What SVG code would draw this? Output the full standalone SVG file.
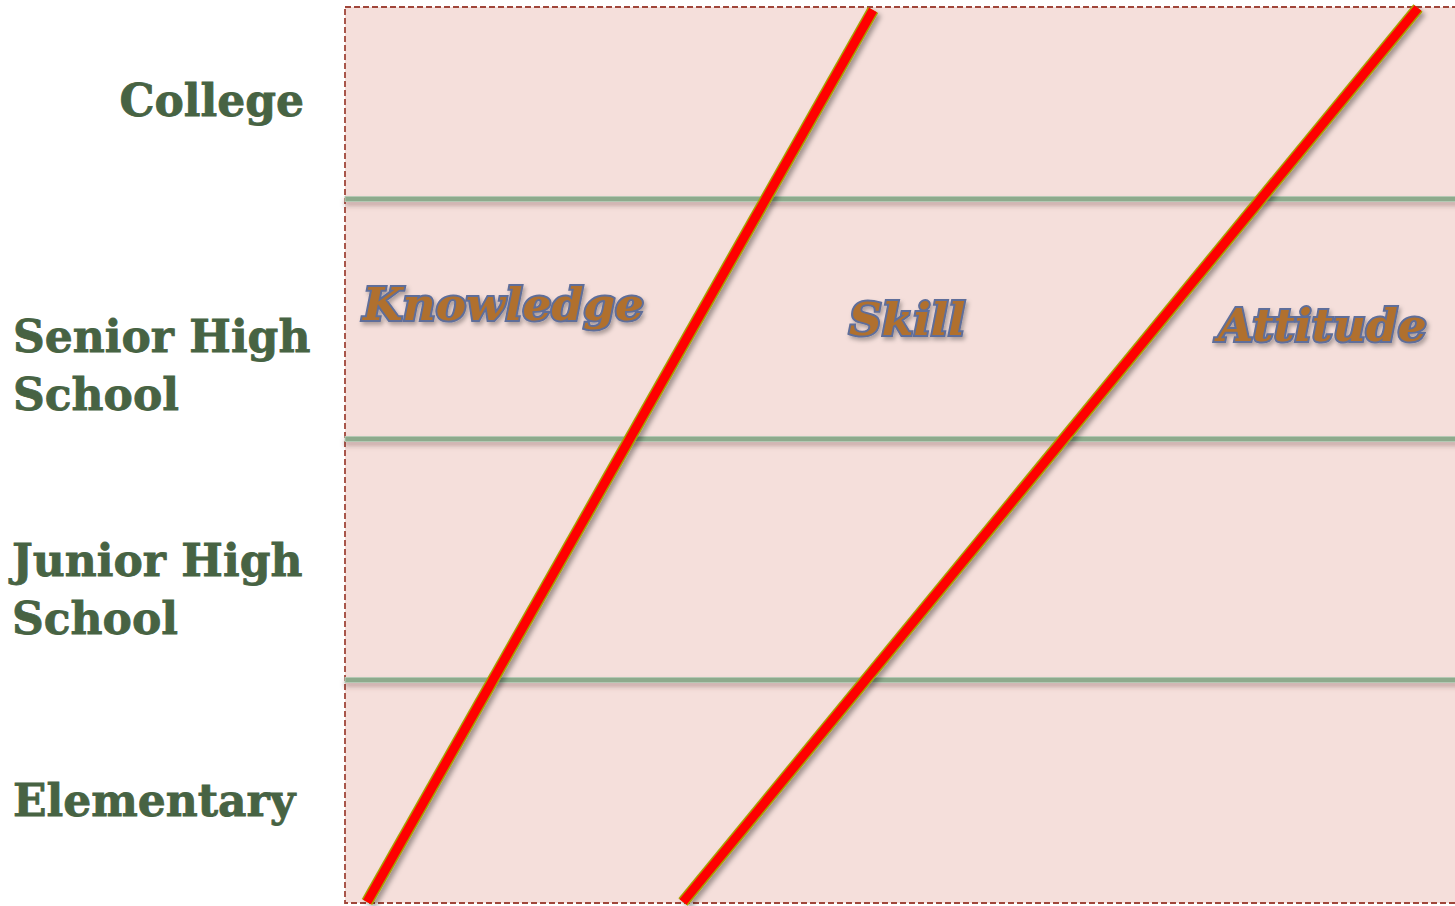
<svg xmlns="http://www.w3.org/2000/svg" width="1455" height="906" viewBox="0 0 1455 906">
<defs>
<filter id="sh" filterUnits="userSpaceOnUse" x="0" y="0" width="1455" height="906">
<feDropShadow dx="3" dy="3" stdDeviation="2.5" flood-color="#000" flood-opacity="0.35"/>
</filter>
<filter id="gsh" filterUnits="userSpaceOnUse" x="0" y="0" width="1455" height="906">
<feDropShadow dx="0" dy="4" stdDeviation="2.5" flood-color="#5a3030" flood-opacity="0.3"/>
</filter>
<filter id="tsh" x="-10%" y="-20%" width="130%" height="150%">
<feDropShadow dx="2" dy="3" stdDeviation="2" flood-color="#000" flood-opacity="0.3"/>
</filter>
</defs>
<style>
.lvl{font-family:"DejaVu Serif","Liberation Serif",serif;font-weight:bold;font-size:44px;fill:#476343;stroke:#476343;stroke-width:0.8px}
.dom{font-family:"DejaVu Serif","Liberation Serif",serif;font-weight:bold;font-style:italic;font-size:45.5px;fill:#B0702E;stroke:#5F6E9A;stroke-width:4px;paint-order:stroke;filter:url(#tsh)}
.grid{fill:#8DAA8C;stroke:#B5C8B4;stroke-width:1}
.red{stroke:#A8A000;stroke-width:12;stroke-linecap:butt}
.redc{stroke:#FF0000;stroke-width:9}
</style>
<rect id="panel" x="345" y="7" width="1115" height="896" fill="#F5DFDB" stroke="#A0463A" stroke-width="1.8" stroke-dasharray="6,3"/>
<g id="levels">
<text class="lvl" x="304" y="116" text-anchor="end">College</text>
<text class="lvl" x="13" y="352">Senior High</text>
<text class="lvl" x="13" y="410">School</text>
<text class="lvl" x="12" y="576">Junior High</text>
<text class="lvl" x="12" y="634">School</text>
<text class="lvl" x="13" y="816">Elementary</text>
</g>
<g id="connectors">
<g filter="url(#gsh)">
<rect class="grid" x="345" y="196.5" width="1115" height="5"/>
<rect class="grid" x="345" y="436.5" width="1115" height="5"/>
<rect class="grid" x="345" y="677.5" width="1115" height="5"/>
</g>
<g filter="url(#sh)">
<line class="red" x1="367" y1="902" x2="873" y2="10"/>
<line class="red" x1="683" y1="902" x2="1418" y2="8"/>
</g>
<line class="redc" x1="367" y1="902" x2="873" y2="10"/>
<line class="redc" x1="683" y1="902" x2="1418" y2="8"/>
</g>
<g id="domains">
<text class="dom" x="363" y="320">Knowledge</text>
<text class="dom" x="849" y="335">Skill</text>
<text class="dom" x="1218" y="341">Attitude</text>
</g>
</svg>
